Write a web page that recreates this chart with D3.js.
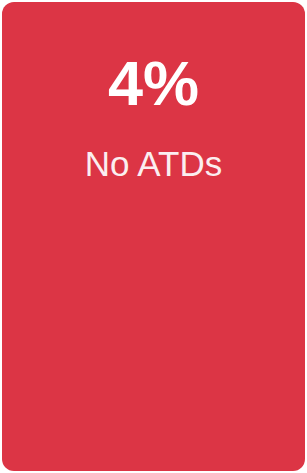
<!DOCTYPE html>
<html>
<head>
<meta charset="utf-8">
<script src="https://cdn.jsdelivr.net/npm/d3@7"></script>
<style>
	body { margin: 0; background: #fff; }
</style>
</head>
<body>
<div class="card"></div>
<script>
const values = [4];
const labels = ["No ATDs"];

function renderCard() {
	const width = 307;
	const height = 473;
	const svg = d3.select('.card')
				.append('svg')
				.attr('width', width)
				.attr('height', height);

	svg.append("rect")
		.attr("x", 2)
		.attr("y", 2)
		.attr("width", width - 4)
		.attr("height", height - 4)
		.attr("rx", 12)
		.attr("fill", "#dc3545");

	// big number
	svg.selectAll(".value")
		.data(values)
		.enter()
		.append("text")
		.attr("class", "value")
		.text(d => `${d}%`)
		.attr("x", width / 2)
		.attr("y", 105)
		.attr("fill", "#fff")
		.attr("font-family", "Liberation Sans, Arial, sans-serif")
		.attr("font-weight", "bold")
		.attr("font-size", "63px")
		.attr("text-anchor", "middle");

	// label
	svg.selectAll(".label")
		.data(labels)
		.enter()
		.append("text")
		.attr("class", "label")
		.text(d => d)
		.attr("x", width / 2)
		.attr("y", 176)
		.attr("fill", "#fbeef0")
		.attr("font-family", "Liberation Sans, Arial, sans-serif")
		.attr("font-size", "35px")
		.attr("text-anchor", "middle");
}

renderCard();
</script>
</body>
</html>
